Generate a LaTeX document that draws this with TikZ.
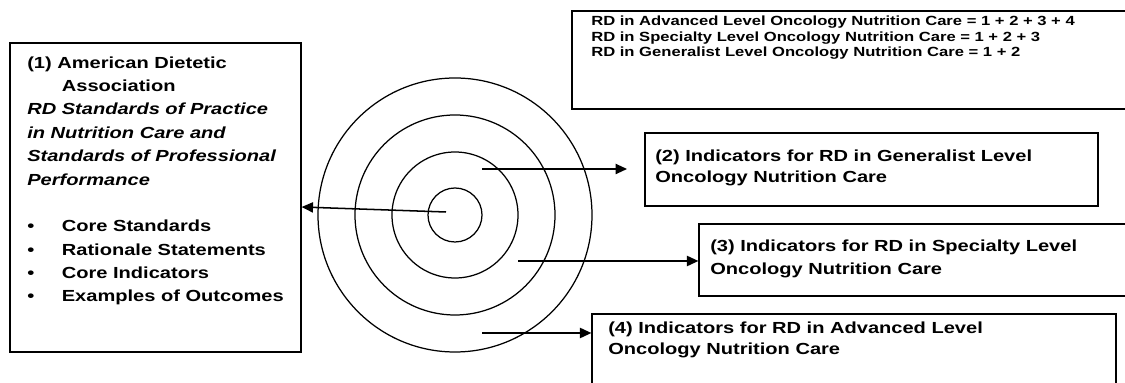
\documentclass[tikz,border=0pt]{standalone}
\usepackage{fontspec}
\setmainfont{Liberation Sans}[FakeStretch=1.25]
\usetikzlibrary{arrows.meta, fit, calc}
\tikzset{frame/.style={draw, line width=0.9pt, inner sep=0pt},
         ring/.style={draw, circle, line width=0.9pt, inner sep=0pt},
         label text/.style={inner sep=0pt, anchor=base west, align=left, font=\bfseries},
         link/.style={-{Triangle[length=2.9mm, width=2.6mm]}, line width=1.1pt},
        }

\begin{document}
\begin{tikzpicture}[x=0.254mm, y=-0.254mm]
        \clip (0,0) rectangle (1125,383);

        % boxes
        \node[frame, fit={(10,43) (301,352)}](ada){};
        \node[frame, fit={(572,11) (1140,109)}](levels){};
        \node[frame, fit={(645,133) (1098,206)}](gen){};
        \node[frame, fit={(699,224) (1140,296)}](spec){};
        \node[frame, fit={(592,314) (1116,400)}](adv){};

        % target rings
        \foreach \r [count=\i] in {27,63,100,137}
            \node[ring, minimum size=\r*0.508mm](ring\i)at(455,215){};

        % texts (placed at the baseline of their last line)
        \node[label text, font=\fontsize{11.6}{16.9}\selectfont\bfseries](adatext)at(27,302){%
            (1) American Dietetic\\
            \hspace*{25pt}Association\\
            \textit{RD Standards of Practice}\\
            \textit{in Nutrition Care and}\\
            \textit{Standards of Professional}\\
            \textit{Performance}\\[16.9pt]
            \makebox[25pt][l]{\textbullet}Core Standards\\
            \makebox[25pt][l]{\textbullet}Rationale Statements\\
            \makebox[25pt][l]{\textbullet}Core Indicators\\
            \makebox[25pt][l]{\textbullet}Examples of Outcomes};
        \node[label text, font=\fontsize{9.6}{11.2}\selectfont\bfseries](levelstext)at(591,57){%
            RD in Advanced Level Oncology Nutrition Care = 1 + 2 + 3 + 4\\
            RD in Specialty Level Oncology Nutrition Care = 1 + 2 + 3\\
            RD in Generalist Level Oncology Nutrition Care = 1 + 2};
        \node[label text, font=\fontsize{11.6}{15.8}\selectfont\bfseries](gentext)at(655,183){%
            (2) Indicators for RD in Generalist Level\\
            Oncology Nutrition Care};
        \node[label text, font=\fontsize{11.6}{17.3}\selectfont\bfseries](spectext)at(710,275){%
            (3) Indicators for RD in Specialty Level\\
            Oncology Nutrition Care};
        \node[label text, font=\fontsize{11.6}{15.8}\selectfont\bfseries](advtext)at(608,355){%
            (4) Indicators for RD in Advanced Level\\
            Oncology Nutrition Care};

        % arrows out of the rings
        \coordinate(hub)at(446,212);
        \coordinate(s2)at(482,169);
        \coordinate(e2)at(627,169);
        \coordinate(s3)at(518,261);
        \coordinate(s4)at(482,333);
        \draw[link](hub)--($(ada.east)+(0,9.5)$);
        \draw[link](s2)--(e2);
        \draw[link](s3)--(s3 -| spec.west);
        \draw[link](s4)--(s4 -| adv.west);
\end{tikzpicture}
\end{document}
